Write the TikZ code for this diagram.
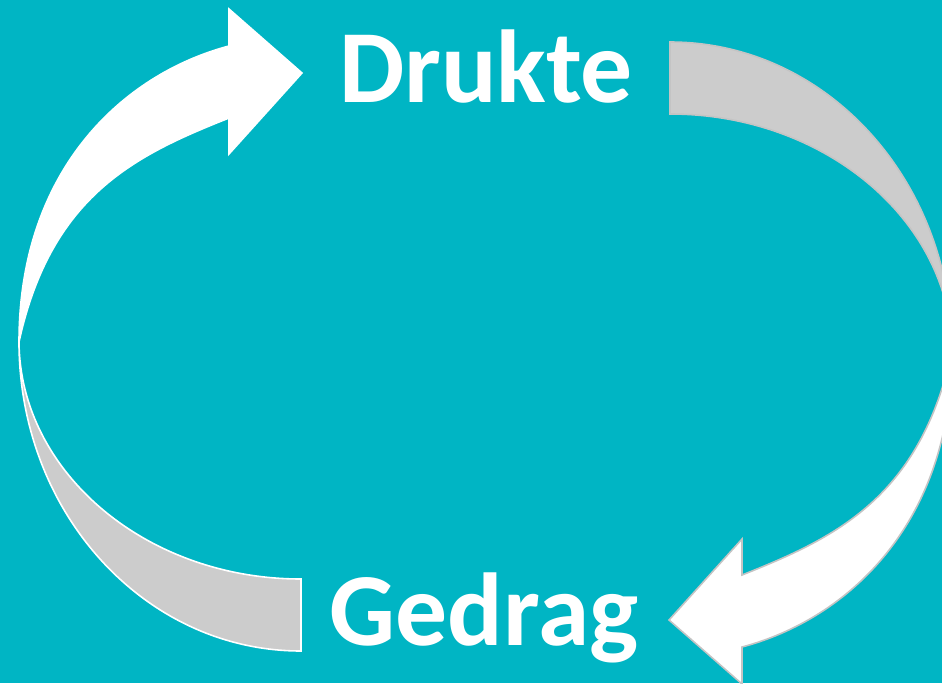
\documentclass[tikz,border=0pt]{standalone}
\usepackage{fontspec}
\setmainfont{Carlito}
\usepackage{tikz}
\usetikzlibrary{calc,positioning}
\definecolor{lagoon}{RGB}{0,181,196}
\definecolor{ashgray}{RGB}{204,204,204}
\definecolor{rimgray}{RGB}{196,196,196}

\begin{document}
\begin{tikzpicture}[x=0.02cm, y=-0.02cm,
	front/.style={fill=white},
	back/.style={fill=ashgray},
	word/.style={text=white, font=\bfseries\fontsize{59}{66}\selectfont,
		anchor=base, inner sep=0pt}]
\clip (0,0) rectangle (942,683);
\fill[lagoon] (0,0) rectangle (942,683);

\node[word] (drukte) at (486,102) {Drukte};
\node[word] (gedrag) at (484,645) {Gedrag};

% left arrow goes up, the right one is the same turned round
\foreach \turn/\rim in {0/white, 180/rimgray}{
\begin{scope}[rotate around={\turn:(485.5,346.5)}, draw=\rim, line width=0.9pt]
\filldraw[back] (19,342) .. controls (19,513) and (145,651) .. (301,651)
	-- (301,579) .. controls (146,579) and (20,472) .. (19,342) -- cycle;
\filldraw[front] (19,342) .. controls (19,170) and (123,74) .. (229,46)
	-- (229,9) -- (302,73) -- (229,154) -- (229,118)
	.. controls (136,155) and (51,195) .. (19,342) -- cycle;
\end{scope}
}
\end{tikzpicture}
\end{document}
